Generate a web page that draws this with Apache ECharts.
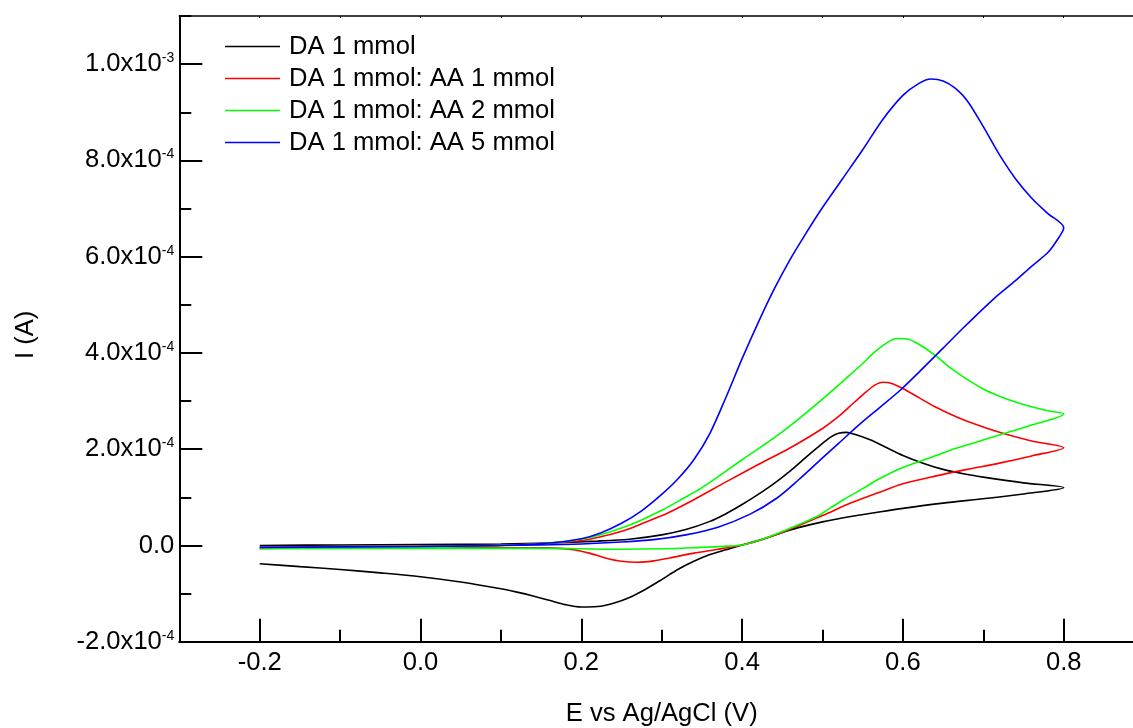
<!DOCTYPE html>
<html>
<head>
<meta charset="utf-8">
<script src="https://cdn.jsdelivr.net/npm/echarts@6/dist/echarts.min.js"></script>
<style>
  html, body { margin: 0; padding: 0; background: #fff; }
  #chart { width: 1133px; height: 728px; }
</style>
</head>
<body>
<div id="chart"></div>
<script>
// Cyclic voltammograms of dopamine (DA) with increasing ascorbic acid (AA)
// Each series is one cycle: forward scan -0.2 -> 0.8 V, then reverse scan back to -0.2 V.

const seriesNames = [
  'DA 1 mmol',
  'DA 1 mmol: AA 1 mmol',
  'DA 1 mmol: AA 2 mmol',
  'DA 1 mmol: AA 5 mmol'
];
const seriesColors = ['#000000', '#ff0000', '#00ff00', '#0000ff'];

// [E (V), I (A)]
const da1 = [
  // forward
  [-0.2, 0.0], [-0.1, 0.01e-4], [0.0, 0.02e-4], [0.1, 0.03e-4], [0.16, 0.05e-4],
  [0.22, 0.09e-4], [0.26, 0.13e-4], [0.3, 0.22e-4], [0.33, 0.33e-4], [0.36, 0.5e-4],
  [0.38, 0.66e-4], [0.4, 0.85e-4], [0.42, 1.06e-4], [0.44, 1.29e-4], [0.46, 1.55e-4],
  [0.48, 1.84e-4], [0.5, 2.12e-4], [0.51, 2.25e-4], [0.52, 2.33e-4], [0.53, 2.35e-4],
  [0.54, 2.31e-4], [0.56, 2.19e-4], [0.58, 2.03e-4], [0.6, 1.87e-4], [0.625, 1.71e-4],
  [0.65, 1.58e-4], [0.675, 1.49e-4], [0.7, 1.42e-4], [0.75, 1.3e-4], [0.8, 1.2e-4],
  // reverse
  [0.75, 1.07e-4], [0.7, 0.97e-4], [0.65, 0.88e-4], [0.6, 0.77e-4], [0.565, 0.68e-4],
  [0.535, 0.6e-4], [0.5, 0.49e-4], [0.47, 0.37e-4], [0.45, 0.27e-4], [0.42, 0.1e-4],
  [0.4, 0.01e-4], [0.38, -0.09e-4], [0.36, -0.19e-4], [0.34, -0.33e-4], [0.32, -0.5e-4],
  [0.3, -0.71e-4], [0.28, -0.91e-4], [0.26, -1.08e-4], [0.24, -1.2e-4], [0.22, -1.27e-4],
  [0.2, -1.28e-4], [0.18, -1.23e-4], [0.16, -1.14e-4], [0.14, -1.05e-4], [0.12, -0.97e-4],
  [0.1, -0.9e-4], [0.05, -0.76e-4], [0.0, -0.65e-4], [-0.05, -0.57e-4], [-0.1, -0.5e-4],
  [-0.15, -0.44e-4], [-0.2, -0.38e-4]
];

const da1aa1 = [
  // forward
  [-0.2, -0.04e-4], [-0.1, -0.03e-4], [0.0, -0.02e-4], [0.1, 0.0], [0.16, 0.05e-4],
  [0.2, 0.1e-4], [0.224, 0.18e-4], [0.245, 0.27e-4], [0.265, 0.38e-4], [0.285, 0.52e-4],
  [0.307, 0.67e-4], [0.34, 0.95e-4], [0.38, 1.32e-4], [0.42, 1.68e-4], [0.46, 2.03e-4],
  [0.5, 2.43e-4], [0.52, 2.68e-4], [0.54, 2.98e-4], [0.555, 3.2e-4], [0.565, 3.33e-4],
  [0.575, 3.39e-4], [0.585, 3.37e-4], [0.6, 3.26e-4], [0.62, 3.07e-4], [0.64, 2.88e-4],
  [0.66, 2.72e-4], [0.68, 2.58e-4], [0.72, 2.35e-4], [0.76, 2.17e-4], [0.8, 2.03e-4],
  // reverse
  [0.76, 1.86e-4], [0.72, 1.71e-4], [0.68, 1.58e-4], [0.64, 1.44e-4], [0.6, 1.28e-4],
  [0.57, 1.1e-4], [0.535, 0.88e-4], [0.5, 0.62e-4], [0.47, 0.41e-4], [0.45, 0.27e-4],
  [0.42, 0.1e-4], [0.4, 0.01e-4], [0.37, -0.08e-4], [0.34, -0.16e-4], [0.31, -0.26e-4],
  [0.29, -0.32e-4], [0.27, -0.35e-4], [0.25, -0.33e-4], [0.23, -0.26e-4], [0.21, -0.16e-4],
  [0.19, -0.09e-4], [0.16, -0.05e-4], [0.1, -0.05e-4], [0.0, -0.05e-4], [-0.1, -0.05e-4],
  [-0.2, -0.06e-4]
];

const da1aa2 = [
  // forward
  [-0.2, -0.05e-4], [0.0, -0.03e-4], [0.1, 0.0], [0.16, 0.05e-4], [0.2, 0.13e-4],
  [0.224, 0.22e-4], [0.25, 0.36e-4], [0.275, 0.53e-4], [0.3, 0.73e-4], [0.325, 0.96e-4],
  [0.35, 1.2e-4], [0.4, 1.78e-4], [0.45, 2.36e-4], [0.5, 3.04e-4], [0.53, 3.48e-4],
  [0.55, 3.78e-4], [0.565, 4.02e-4], [0.58, 4.21e-4], [0.592, 4.3e-4], [0.605, 4.29e-4],
  [0.62, 4.18e-4], [0.64, 3.95e-4], [0.66, 3.68e-4], [0.68, 3.45e-4], [0.7, 3.25e-4],
  [0.72, 3.1e-4], [0.74, 2.98e-4], [0.76, 2.88e-4], [0.78, 2.8e-4], [0.8, 2.73e-4],
  // reverse
  [0.76, 2.5e-4], [0.721, 2.3e-4], [0.69, 2.14e-4], [0.659, 1.98e-4], [0.63, 1.8e-4],
  [0.597, 1.6e-4], [0.57, 1.38e-4], [0.55, 1.18e-4], [0.526, 0.95e-4], [0.51, 0.78e-4],
  [0.493, 0.6e-4], [0.47, 0.43e-4], [0.45, 0.29e-4], [0.425, 0.13e-4], [0.4, 0.01e-4],
  [0.375, -0.02e-4], [0.348, -0.04e-4], [0.3, -0.07e-4], [0.25, -0.08e-4], [0.2, -0.07e-4],
  [0.16, -0.06e-4], [0.0, -0.06e-4], [-0.2, -0.07e-4]
];

const da1aa5 = [
  // forward
  [-0.2, -0.04e-4], [0.0, -0.02e-4], [0.1, 0.0], [0.16, 0.05e-4], [0.2, 0.14e-4],
  [0.224, 0.26e-4], [0.25, 0.46e-4], [0.275, 0.72e-4], [0.3, 1.06e-4], [0.32, 1.38e-4],
  [0.34, 1.78e-4], [0.36, 2.33e-4], [0.38, 3.08e-4], [0.4, 3.88e-4], [0.42, 4.63e-4],
  [0.44, 5.33e-4], [0.46, 5.95e-4], [0.48, 6.5e-4], [0.5, 7.02e-4], [0.525, 7.62e-4],
  [0.55, 8.22e-4], [0.575, 8.85e-4], [0.6, 9.35e-4], [0.62, 9.6e-4], [0.635, 9.69e-4],
  [0.65, 9.65e-4], [0.665, 9.5e-4], [0.68, 9.24e-4], [0.7, 8.7e-4], [0.72, 8.12e-4],
  [0.74, 7.62e-4], [0.76, 7.22e-4], [0.78, 6.9e-4], [0.8, 6.6e-4],
  // reverse
  [0.79, 6.3e-4], [0.78, 6.08e-4], [0.76, 5.8e-4], [0.74, 5.5e-4], [0.714, 5.14e-4],
  [0.68, 4.6e-4], [0.65, 4.1e-4], [0.62, 3.6e-4], [0.597, 3.23e-4], [0.57, 2.85e-4],
  [0.545, 2.5e-4], [0.52, 2.12e-4], [0.5, 1.82e-4], [0.47, 1.36e-4], [0.443, 0.98e-4],
  [0.41, 0.65e-4], [0.37, 0.38e-4], [0.33, 0.22e-4], [0.29, 0.12e-4], [0.25, 0.07e-4],
  [0.2, 0.03e-4], [0.15, 0.01e-4], [0.0, -0.02e-4], [-0.2, -0.04e-4]
];

const seriesData = [da1, da1aa1, da1aa2, da1aa5];

// Axis ticks
const potentialTicks = [-0.2, 0.0, 0.2, 0.4, 0.6, 0.8];
const potentialMinorTicks = [-0.1, 0.1, 0.3, 0.5, 0.7];
const potentialTopTicks = [-0.2, -0.1, 0.0, 0.1, 0.2, 0.3, 0.4, 0.5, 0.6, 0.7, 0.8];
const currentTicks = [-2e-4, 0, 2e-4, 4e-4, 6e-4, 8e-4, 1e-3];
const currentMinorTicks = [-1e-4, 1e-4, 3e-4, 5e-4, 7e-4, 9e-4, 1.1e-3];

const FONT = "'Liberation Sans', Arial, Helvetica, sans-serif";
const FONT_SIZE = 25.6;

function currentLabel(v) {
  if (Math.abs(v) < 1e-12) return '{m|0.0}';
  const exp = Math.floor(Math.log10(Math.abs(v)) + 1e-9);
  const mant = v / Math.pow(10, exp);
  return '{m|' + mant.toFixed(1) + 'x10}{e|' + exp + '}';
}

const chart = echarts.init(document.getElementById('chart'), null, { renderer: 'canvas' });

const axisLineStyle = { color: '#000', width: 2 };
const tickStyle = { color: '#000', width: 2 };

chart.setOption({
  animation: false,
  backgroundColor: '#fff',
  grid: {
    left: 179.3,
    top: 16,
    right: -11.1,
    bottom: 86.3,
    containLabel: false,
    outerBoundsMode: 'none'
  },
  legend: {
    orient: 'vertical',
    left: 225,
    top: 33.5,
    padding: 0,
    itemGap: 6,
    itemWidth: 55,
    itemHeight: 1.6,
    icon: 'rect',
    data: seriesNames,
    textStyle: { fontFamily: FONT, fontSize: FONT_SIZE, color: '#000', lineHeight: 25, padding: [0, 0, 0, 4] }
  },
  xAxis: [
    {
      type: 'value', min: -0.3, max: 0.9, position: 'bottom',
      axisLine: { onZero: false, lineStyle: axisLineStyle },
      axisTick: { show: true, inside: true, length: 23, customValues: potentialTicks, lineStyle: tickStyle },
      axisLabel: {
        customValues: potentialTicks, margin: 8,
        fontFamily: FONT, fontSize: FONT_SIZE, color: '#000',
        formatter: function (v) { return v.toFixed(1); }
      },
      splitLine: { show: false },
      name: 'E vs Ag/AgCl (V)', nameLocation: 'middle', nameGap: 59,
      nameTextStyle: { fontFamily: FONT, fontSize: FONT_SIZE, color: '#000' }
    },
    {
      type: 'value', min: -0.3, max: 0.9, position: 'bottom',
      axisLine: { show: false, onZero: false },
      axisTick: { show: true, inside: true, length: 12, customValues: potentialMinorTicks, lineStyle: tickStyle },
      axisLabel: { show: false },
      splitLine: { show: false }
    },
    {
      type: 'value', min: -0.3, max: 0.9, position: 'top',
      axisLine: { show: true, onZero: false, lineStyle: { color: '#000', width: 1.5 } },
      axisTick: { show: true, inside: true, length: 2, customValues: potentialTopTicks, lineStyle: { color: '#000', width: 1 } },
      axisLabel: { show: false },
      splitLine: { show: false }
    }
  ],
  yAxis: [
    {
      type: 'value', min: -2e-4, max: 1.1e-3, position: 'left',
      axisLine: { onZero: false, lineStyle: axisLineStyle },
      axisTick: { show: true, inside: true, length: 23, customValues: currentTicks, lineStyle: tickStyle },
      axisLabel: {
        customValues: currentTicks, margin: 5,
        formatter: currentLabel,
        rich: {
          m: { fontFamily: FONT, fontSize: FONT_SIZE, color: '#000', lineHeight: 26 },
          e: { fontFamily: FONT, fontSize: 14, color: '#000', lineHeight: 14, verticalAlign: 'top' }
        }
      },
      splitLine: { show: false },
      name: 'I (A)', nameLocation: 'middle', nameGap: 140,
      nameTextStyle: { fontFamily: FONT, fontSize: FONT_SIZE, color: '#000', padding: [0, 12, 0, 0] }
    },
    {
      type: 'value', min: -2e-4, max: 1.1e-3, position: 'left',
      axisLine: { show: false, onZero: false },
      axisTick: { show: true, inside: true, length: 12, customValues: currentMinorTicks, lineStyle: tickStyle },
      axisLabel: { show: false },
      splitLine: { show: false }
    }
  ],
  series: seriesNames.map(function (name, i) {
    return {
      name: name,
      type: 'line',
      xAxisIndex: 0,
      yAxisIndex: 0,
      data: seriesData[i],
      color: seriesColors[i],
      symbol: 'none',
      showSymbol: false,
      smooth: 0.3,
      clip: true,
      lineStyle: { color: seriesColors[i], width: 1.6 }
    };
  })
});
</script>
</body>
</html>
